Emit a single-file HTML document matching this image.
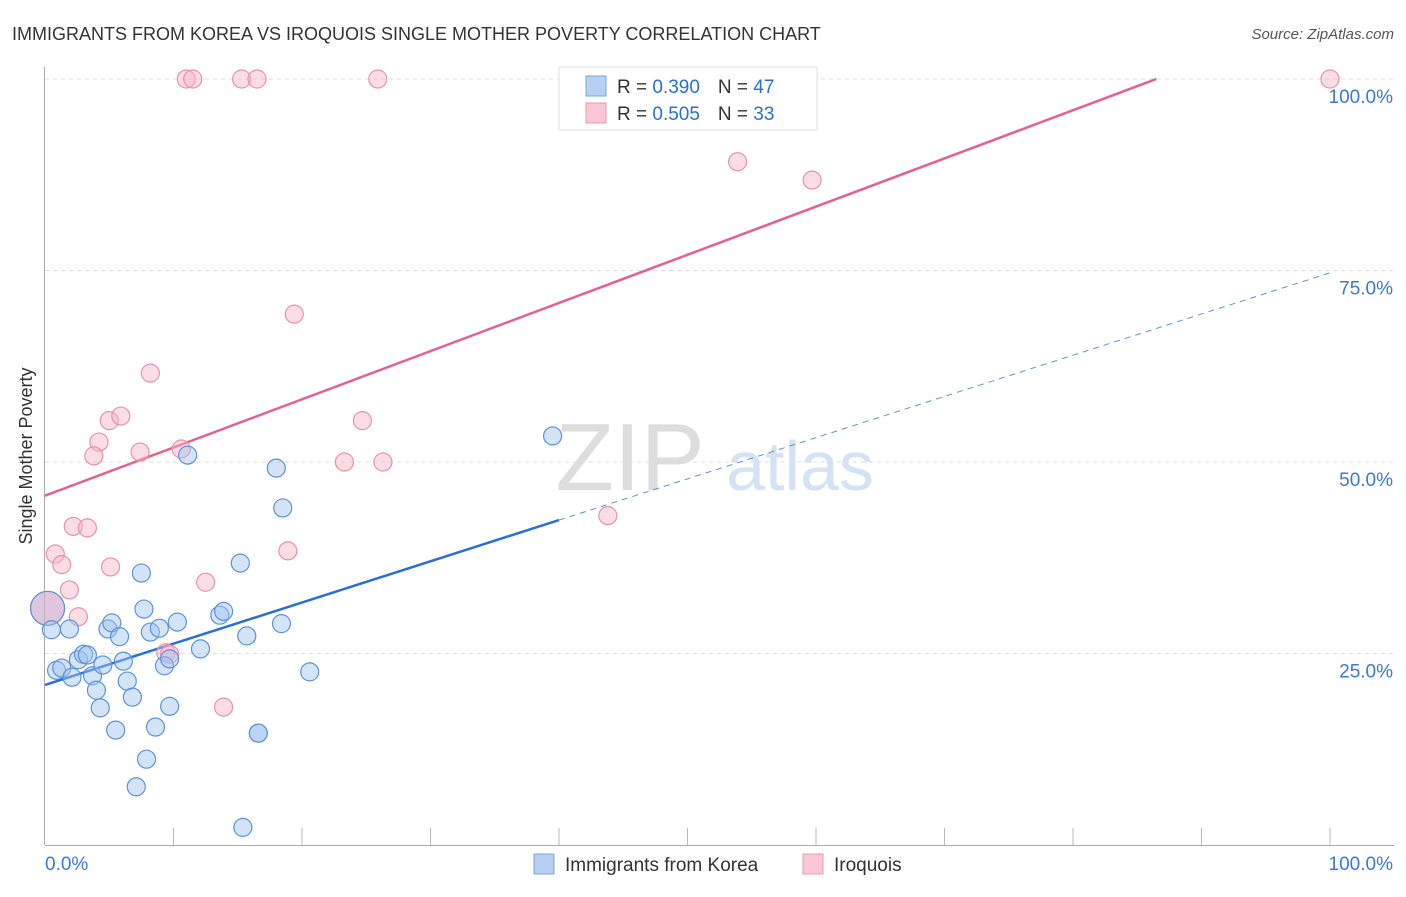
<!DOCTYPE html>
<html><head><meta charset="utf-8"><style>
body{margin:0;background:#fff;font-family:"Liberation Sans",sans-serif}
svg text{font-family:"Liberation Sans",sans-serif}
</style></head><body>
<svg id="chart" width="1406" height="892">
<text x="12" y="40" font-size="18" fill="#333">IMMIGRANTS FROM KOREA VS IROQUOIS SINGLE MOTHER POVERTY CORRELATION CHART</text>
<text x="1394" y="39" font-size="15" fill="#555" font-style="italic" text-anchor="end">Source: ZipAtlas.com</text>
<text x="32" y="456" font-size="18" fill="#333" transform="rotate(-90 32 456)" text-anchor="middle">Single Mother Poverty</text>
<text x="630" y="490" font-size="96" fill="#ddd" font-family="Liberation Serif" text-anchor="middle">ZIP</text>
<text x="800" y="490" font-size="70" fill="#d3e2f4" text-anchor="middle">atlas</text>
<g id="grid"></g><g id="axes"></g><g id="lines"></g><g id="pts"></g>
<g>
<rect x="559" y="67" width="258" height="63" fill="#fff" stroke="#ddd"/>
<rect x="586" y="76" width="20" height="20" fill="#b5d0f3" stroke="#7aa7e0"/>
<rect x="586" y="103" width="20" height="20" fill="#fbc6d5" stroke="#eb9ab2"/>
<text x="617" y="93" font-size="19" fill="#333">R = <tspan fill="#2a6fd6">0.390</tspan><tspan dx="18">N = </tspan><tspan fill="#2a6fd6">47</tspan></text>
<text x="617" y="120" font-size="19" fill="#333">R = <tspan fill="#2a6fd6">0.505</tspan><tspan dx="18">N = </tspan><tspan fill="#2a6fd6">33</tspan></text>
</g>
<g>
<rect x="534" y="854" width="20" height="20" fill="#b5d0f3" stroke="#7aa7e0"/>
<text x="565" y="871" font-size="19" fill="#333">Immigrants from Korea</text>
<rect x="803" y="854" width="20" height="20" fill="#fbc6d5" stroke="#eb9ab2"/>
<text x="834" y="871" font-size="19" fill="#333">Iroquois</text>
</g>
</svg>
<script>
const yTicks=[25,50,75,100];
const yTickLabels=["25.0%","50.0%","75.0%","100.0%"];
const xTickLabels=["0.0%","100.0%"];
const koreaX=[0.2,0.5,1.9,0.9,1.3,2.1,2.6,3.0,3.3,3.7,4.0,4.3,4.5,4.9,5.2,5.8,5.5,6.1,6.4,6.8,7.1,7.5,7.7,7.9,8.2,8.6,8.9,9.3,9.7,9.7,10.3,11.1,12.1,13.6,13.9,15.2,15.4,15.7,16.6,16.6,18.0,18.5,18.4,20.6,39.5];
const koreaY=[30.9,28.1,28.2,22.8,23.1,21.9,24.2,24.9,24.8,22.1,20.2,17.9,23.5,28.2,29.0,27.2,15.0,24.0,21.4,19.3,7.6,35.5,30.8,11.2,27.8,15.4,28.3,23.4,18.1,24.3,29.1,50.9,25.6,30.0,30.5,36.8,2.3,27.3,14.6,14.6,49.2,44.0,28.9,22.6,53.4];
const iroqX=[11.0,11.5,15.3,16.5,25.9,100,53.9,59.7,19.4,8.2,5.0,5.9,4.2,3.8,7.4,10.6,24.7,23.3,26.3,43.8,2.2,3.3,0.8,1.3,1.9,5.1,2.6,12.5,18.9,13.9,9.4,9.7,0.2];
const iroqY=[100,100,100,100,100,100,89.2,86.8,69.3,61.6,55.4,56.0,52.6,50.8,51.3,51.7,55.4,50.0,50.0,43.0,41.6,41.4,38.0,36.6,33.3,36.3,29.8,34.3,38.4,18.0,25.1,24.9,30.9];
const koreaTrend=[20.9,74.7]; // value at x=0, x=100
const iroqTrend=[45.6,108.5];
const sx=v=>45+v*12.85, sy=v=>845-v*7.66;
const NS="http://www.w3.org/2000/svg";
function mk(tag,attrs,parent){const e=document.createElementNS(NS,tag);for(const k in attrs)e.setAttribute(k,attrs[k]);document.getElementById(parent).appendChild(e);return e;}
yTicks.forEach((t,i)=>{
 const l=mk('line',{x1:45,x2:1394,y1:sy(t),y2:sy(t),stroke:'#ddd','stroke-dasharray':'4,4'},'grid');
 
 
 const tx=mk('text',{x:1393,y:sy(t)+24,'font-size':19,fill:'#3b78d8','text-anchor':'end'},'grid');
 tx.textContent=yTickLabels[i];
 
 
});
const ax=mk('line',{x1:44.5,x2:44.5,y1:67,y2:845,stroke:'#aaa'},'axes');


const bx=mk('line',{x1:45,x2:1394,y1:845.5,y2:845.5,stroke:'#aaa'},'axes');


for(let i=1;i<=10;i++){const t=mk('line',{x1:sx(i*10),x2:sx(i*10),y1:828,y2:845,stroke:'#bbb'},'axes');
 
 }
[[0,'start',45],[100,'end',1393]].forEach((d,i)=>{const t=mk('text',{x:d[2],y:870,'font-size':19,fill:'#3b78d8','text-anchor':d[1]},'axes');t.textContent=xTickLabels[i];
 
 });
const ky=x=>koreaTrend[0]+(koreaTrend[1]-koreaTrend[0])*x/100;
const k1=mk('line',{x1:sx(0),y1:sy(ky(0)),x2:sx(40),y2:sy(ky(40)),stroke:'#2a6fd6','stroke-width':2.5},'lines');


const k2=mk('line',{x1:sx(40),y1:sy(ky(40)),x2:sx(100),y2:sy(ky(100)),stroke:'#5b93d8','stroke-width':1,'stroke-dasharray':'6,5'},'lines');


const xe=(100-iroqTrend[0])/(iroqTrend[1]-iroqTrend[0])*100;
const p1=mk('line',{x1:sx(0),y1:sy(iroqTrend[0]),x2:sx(xe),y2:sy(100),stroke:'#e5628a','stroke-width':2.5},'lines');


iroqX.forEach((x,i)=>{const c=mk('circle',{cx:sx(x),cy:sy(iroqY[i]),r:i==32?17:9,fill:'rgba(248,180,200,0.45)',stroke:'#e891aa','stroke-width':1.2},'pts');
 
 });
koreaX.forEach((x,i)=>{const c=mk('circle',{cx:sx(x),cy:sy(koreaY[i]),r:i==0?17:9,fill:i==0?'rgba(190,170,210,0.45)':'rgba(160,196,240,0.45)',stroke:'#5b93d8','stroke-width':1.2},'pts');
 
 });
</script>
</body></html>
